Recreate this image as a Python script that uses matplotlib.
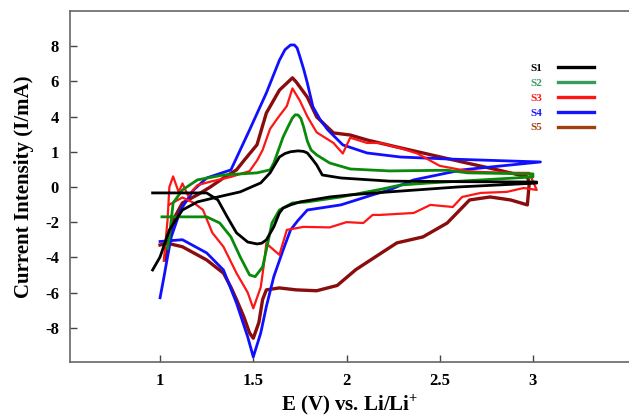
import matplotlib
matplotlib.use("Agg")
import matplotlib.pyplot as plt
from matplotlib.lines import Line2D

# S1 (black) - anodic then cathodic sweep
e_s1 = [0.96, 1.0, 1.05, 1.12, 1.20, 1.31, 1.43, 1.54, 1.59, 1.64, 1.67, 1.70, 1.74, 1.77, 1.79, 1.815, 1.84, 1.87, 1.97, 2.23, 2.6, 3.02,
        3.02, 2.6, 2.23, 2.02, 1.91, 1.75, 1.70, 1.66, 1.64, 1.61, 1.57, 1.545, 1.52, 1.47, 1.41, 1.36, 1.31, 1.25, 0.96]
i_s1 = [-4.72, -3.98, -2.44, -1.31, -0.85, -0.57, -0.28, 0.23, 0.80, 1.70, 1.9, 2.0, 2.05, 2.02, 1.93, 1.6, 1.25, 0.68, 0.51, 0.33, 0.3, 0.28,
        0.22, 0.0, -0.28, -0.45, -0.57, -0.85, -1.02, -1.2, -1.48, -2.27, -3.01, -3.2, -3.24, -3.13, -2.61, -1.70, -0.74, -0.34, -0.34]

# S2 (green)
e_s2 = [1.04, 1.05, 1.07, 1.12, 1.20, 1.34, 1.52, 1.59, 1.61, 1.66, 1.69, 1.71, 1.725, 1.74, 1.755, 1.77, 1.79, 1.81, 1.84, 1.91, 2.02, 2.23, 2.54, 2.65, 3.0,
        3.0, 2.45, 2.29, 2.20, 1.97, 1.79, 1.71, 1.64, 1.60, 1.57, 1.55, 1.51, 1.48, 1.43, 1.38, 1.32, 1.25, 1.01]
i_s2 = [-3.5, -2.84, -0.91, -0.17, 0.40, 0.68, 0.80, 0.97, 1.36, 2.84, 3.5, 3.92, 4.1, 4.09, 3.9, 3.41, 2.6, 2.1, 1.82, 1.36, 1.02, 0.91, 0.95, 0.80, 0.74,
        0.57, 0.23, 0.11, -0.1, -0.57, -0.85, -0.91, -1.31, -2.05, -3.58, -4.55, -5.1, -5.0, -3.98, -2.84, -2.05, -1.70, -1.70]

# S3 (red)
e_s3 = [1.02, 1.04, 1.05, 1.07, 1.10, 1.12, 1.15, 1.20, 1.27, 1.38, 1.48, 1.52, 1.55, 1.59, 1.63, 1.68, 1.71, 1.75, 1.79, 1.84,
        1.93, 1.98, 2.02, 2.11, 2.18, 2.29, 2.38, 2.50, 2.65, 2.72, 2.89, 2.98, 3.02,
        2.95, 2.86, 2.72, 2.62, 2.57, 2.45, 2.36, 2.18, 2.14, 2.09, 2.0, 1.91, 1.77, 1.68, 1.64, 1.59, 1.57, 1.56, 1.54,
        1.50, 1.47, 1.41, 1.34, 1.28, 1.23, 1.18, 1.12, 1.05]
i_s3 = [-4.2, -1.9, 0.0, 0.6, -0.3, 0.2, -0.5, 0.1, 0.3, 0.57, 0.9, 1.5, 2.1, 3.3, 3.9, 4.6, 5.6, 4.9, 4.0, 3.1,
        2.5, 1.9, 2.8, 2.5, 2.5, 2.2, 1.9, 1.2, 0.9, 0.85, 0.8, 0.8, -0.17,
        -0.06, -0.28, -0.34, -0.57, -1.14, -1.02, -1.48, -1.59, -1.59, -2.05, -2.0, -2.3, -2.27, -2.44, -3.86, -3.4, -3.2, -4.15, -5.7,
        -6.9, -6.0, -4.9, -3.4, -2.6, -1.3, -0.9, -0.6, -1.0]

# S4 (blue)
e_s4 = [1.0, 1.02, 1.04, 1.06, 1.11, 1.18, 1.25, 1.38, 1.48, 1.57, 1.64, 1.67, 1.70, 1.72, 1.735, 1.75, 1.77, 1.79, 1.82, 1.86, 1.90, 1.98, 2.11, 2.29, 2.54, 3.04,
        2.62, 2.36, 2.23, 2.14, 1.97, 1.79, 1.74, 1.70, 1.66, 1.61, 1.57, 1.54, 1.50, 1.47, 1.41, 1.34, 1.25, 1.12, 1.0]
i_s4 = [-6.3, -5.17, -3.98, -2.84, -1.31, -0.17, 0.51, 0.97, 3.24, 5.34, 7.2, 7.8, 8.07, 8.07, 7.9, 7.4, 6.7, 5.9, 4.55, 3.8, 3.24, 2.39, 1.93, 1.70, 1.59, 1.42,
        0.97, 0.40, -0.17, -0.45, -1.02, -1.31, -1.9, -2.44, -3.58, -5.1, -6.8, -8.3, -9.66, -8.52, -6.6, -4.72, -3.75, -3.0, -3.1]

# S5 (dark red / brown)
e_s5 = [1.03, 1.04, 1.07, 1.12, 1.20, 1.27, 1.34, 1.41, 1.45, 1.52, 1.57, 1.64, 1.71, 1.73, 1.79, 1.84, 1.93, 2.02, 2.11, 2.27, 2.41, 2.62, 2.81, 2.97,
        2.98, 2.97, 2.88, 2.77, 2.66, 2.54, 2.41, 2.27, 2.18, 2.05, 1.95, 1.84, 1.73, 1.64, 1.57, 1.55, 1.53, 1.50, 1.48, 1.45, 1.41, 1.38,
        1.34, 1.25, 1.12, 1.04, 1.0]
i_s5 = [-4.15, -3.58, -1.88, -0.91, -0.45, 0.0, 0.51, 0.97, 1.5, 2.4, 4.2, 5.5, 6.2, 5.97, 5.1, 3.98, 3.07, 2.95, 2.67, 2.27, 1.93, 1.42, 0.97, 0.57,
        0.23, -1.02, -0.74, -0.57, -0.74, -2.05, -2.84, -3.18, -3.8, -4.7, -5.6, -5.9, -5.85, -5.74, -5.85, -6.4, -7.7, -8.6, -8.3, -7.4, -6.4, -5.7,
        -4.9, -4.15, -3.4, -3.2, -3.3]

ytick_vals = [8, 6, 4, 2, 0, -2, -4, -6, -8]
ytick_labels = ['8', '6', '4', '1', '0', '-2', '-4', '-6', '-8']
xtick_vals = [1, 1.5, 2, 2.5, 3]
xtick_labels = ['1', '1.5', '2', '2.5', '3']

plt.rcParams['font.family'] = ['Liberation Serif', 'DejaVu Serif']
plt.rcParams['font.weight'] = 'bold'
plt.rcParams['mathtext.fontset'] = 'custom'
plt.rcParams['mathtext.rm'] = 'Liberation Serif:bold'
plt.rcParams['mathtext.bf'] = 'Liberation Serif:bold'

fig = plt.figure(figsize=(6.29, 4.18), dpi=100)
ax = fig.add_axes([70/629, 1 - 362/418, 1 - 70/629, (362 - 11)/418])

ax.plot(e_s5, i_s5, color='#8a0c0c', lw=2.4, zorder=2)
ax.plot(e_s4, i_s4, color='#1010ff', lw=2.0, zorder=3)
ax.plot(e_s3, i_s3, color='#ff1515', lw=1.6, zorder=4)
ax.plot(e_s2, i_s2, color='#0a8a0a', lw=2.0, zorder=5)
ax.plot(e_s1, i_s1, color='black', lw=2.0, zorder=6)

ax.set_xlim(0.517, 3.515)
ax.set_ylim(-9.95, 10.0)
ax.set_xticks(xtick_vals)
ax.set_xticklabels(xtick_labels)
ax.set_yticks(ytick_vals)
ax.set_yticklabels(ytick_labels)
ax.tick_params(direction='in', length=5, width=1, color='#444', labelsize=12, pad=8)

for s in ['left', 'bottom', 'top']:
    ax.spines[s].set_color('#666')
    ax.spines[s].set_linewidth(1.2)
ax.spines['right'].set_visible(False)

ax.set_xlabel('E (V) vs. Li/Li$^{\\mathbf{+}}$', fontsize=15, fontweight='bold', labelpad=2)
ax.set_ylabel('Current Intensity (I/mA)', fontsize=15, fontweight='bold', labelpad=8)

leg_colors = ['black', '#3a9a60', '#ff1515', '#1515ff', '#a0400f']
handles = [Line2D([], [], color=c, lw=2.4) for c in leg_colors]
ax.legend(handles, ['S1', 'S2', 'S3', 'S4', 'S5'], loc='upper left',
          bbox_to_anchor=(525/629, 1 - 58/418), bbox_transform=fig.transFigure,
          frameon=False, markerfirst=False, labelcolor=leg_colors,
          prop={'family': 'Liberation Serif', 'weight': 'bold', 'size': 8},
          handlelength=3.2, handletextpad=1.4, labelspacing=0.45, borderpad=0)

fig.savefig('out.png', dpi=100)
